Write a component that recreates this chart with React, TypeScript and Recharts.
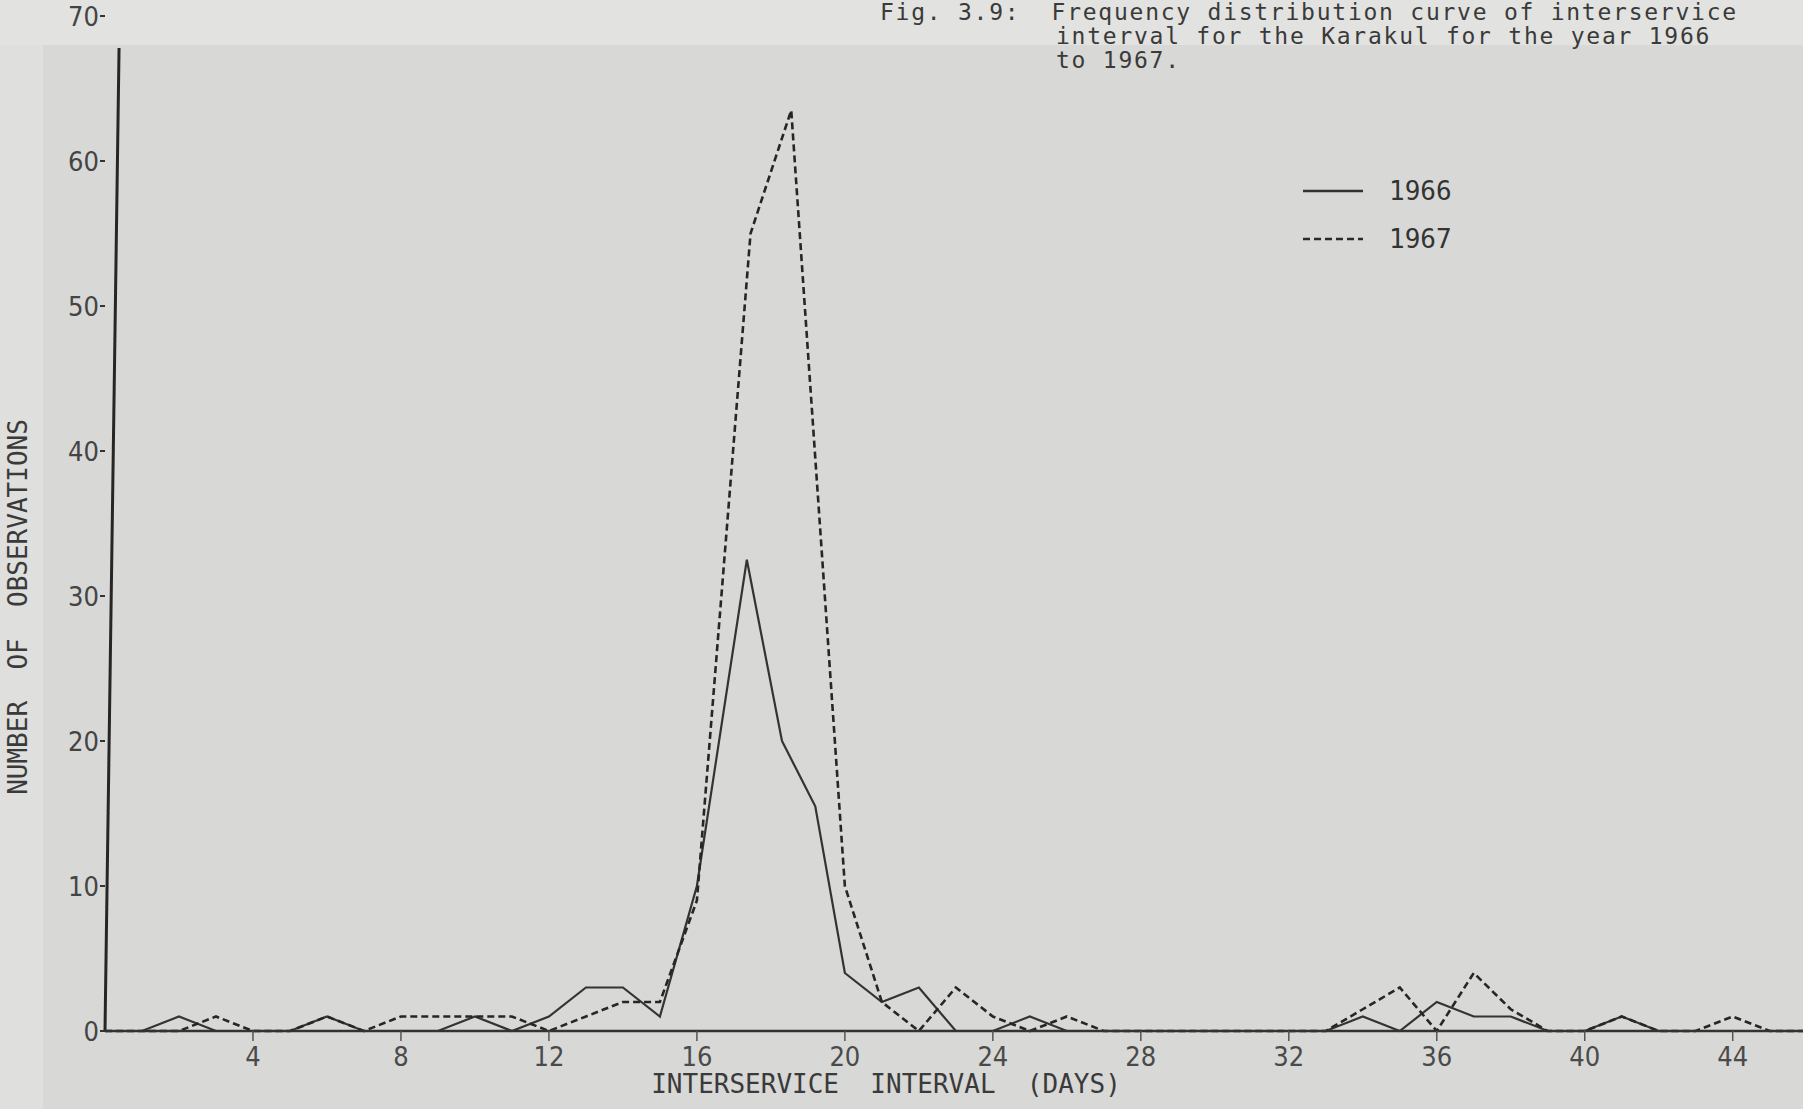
import React from 'react';
import { LineChart, Line, XAxis, YAxis, ReferenceLine, Label } from 'recharts';

// ---- data ----
const days1966 = [0, 1, 2, 3, 4, 5, 6, 7, 8, 9, 10, 11, 12, 13, 14, 15, 16, 17.35, 18.3, 19.2, 20, 21, 22, 23, 24, 25, 26, 27, 28, 29, 30, 31, 32, 33, 34, 35, 36, 37, 38, 39, 40, 41, 42, 43, 44, 45, 46];
const counts1966 = [0, 0, 1, 0, 0, 0, 1, 0, 0, 0, 1, 0, 1, 3, 3, 1, 10, 32.5, 20, 15.5, 4, 2, 3, 0, 0, 1, 0, 0, 0, 0, 0, 0, 0, 0, 1, 0, 2, 1, 1, 0, 0, 1, 0, 0, 0, 0, 0];

const days1967 = [0, 1, 2, 3, 4, 5, 6, 7, 8, 9, 10, 11, 12, 13, 14, 15, 16, 17.45, 18.55, 20, 21, 22, 23, 24, 25, 26, 27, 28, 29, 30, 31, 32, 33, 34, 35, 36, 37, 38, 39, 40, 41, 42, 43, 44, 45, 46];
const counts1967 = [0, 0, 0, 1, 0, 0, 1, 0, 1, 1, 1, 1, 0, 1, 2, 2, 9, 55, 63.5, 10, 2, 0, 3, 1, 0, 1, 0, 0, 0, 0, 0, 0, 0, 1.5, 3, 0, 4, 1.5, 0, 0, 1, 0, 0, 1, 0, 0];

const xTicks = [4, 8, 12, 16, 20, 24, 28, 32, 36, 40, 44];
const yTicks = [0, 10, 20, 30, 40, 50, 60, 70];
const seriesNames = ['1966', '1967'];

const titleLines = [
  'Fig. 3.9:  Frequency distribution curve of interservice',
  'interval for the Karakul for the year 1966',
  'to 1967.',
];
const xAxisTitle = 'INTERSERVICE  INTERVAL  (DAYS)';
const yAxisTitle = 'NUMBER  OF  OBSERVATIONS';

// ---- tables built from the arrays ----
const data1966 = days1966.map((x, i) => ({ x, y: counts1966[i] }));
const data1967 = days1967.map((x, i) => ({ x, y: counts1967[i] }));

const MONO = "'DejaVu Sans Mono', 'Liberation Mono', monospace";
const NARROW = "'Liberation Sans Narrow', 'DejaVu Sans Condensed', 'DejaVu Sans', sans-serif";
const INK = '#333333';

const LegendBox = () => (
  <div style={{ position: 'absolute', left: 1303, top: 167, fontFamily: MONO, fontSize: 26, color: INK }}>
    {seriesNames.map((name, i) => (
      <div key={name} style={{ display: 'flex', alignItems: 'center', height: 48 }}>
        <svg width={60} height={10}>
          <line
            x1={0}
            y1={5}
            x2={60}
            y2={5}
            stroke={i === 0 ? '#333' : '#2a2a2a'}
            strokeWidth={2.5}
            strokeDasharray={i === 0 ? undefined : '7 4'}
          />
        </svg>
        <span style={{ marginLeft: 26, lineHeight: '26px' }}>{name}</span>
      </div>
    ))}
  </div>
);

export default function App() {
  return (
    <div style={{ position: 'relative', width: 1803, height: 1109, background: '#d8d8d7', overflow: 'hidden' }}>
      <style>{'body{margin:0;}'}</style>
      <div style={{ position: 'absolute', left: 0, top: 0, width: 1803, height: 45, background: '#e2e2e1' }} />
      <div style={{ position: 'absolute', left: 0, top: 45, width: 43, height: 1064, background: '#dfdfde' }} />
      {titleLines.map((t, i) => (
        <div
          key={i}
          style={{
            position: 'absolute',
            left: i === 0 ? 880 : 1056,
            top: 1 + i * 24,
            fontFamily: MONO,
            fontSize: 23,
            letterSpacing: '1.75px',
            lineHeight: '23px',
            color: '#3a3a3a',
            whiteSpace: 'pre',
          }}
        >
          {t}
        </div>
      ))}
      <div style={{ position: 'absolute', left: 0, top: 0 }}>
        <LineChart width={1803} height={1109} margin={{ top: 16, right: 0, bottom: 18, left: 45 }}>
          <XAxis
            dataKey="x"
            type="number"
            domain={[0, 45.9]}
            allowDataOverflow
            ticks={xTicks}
            interval={0}
            height={60}
            axisLine={{ stroke: '#333', strokeWidth: 2.5 }}
            tickLine={{ stroke: '#555', strokeWidth: 1.5 }}
            tickSize={10}
            tickMargin={6}
            tick={{ fontSize: 27, fill: '#4a4a4a', fontFamily: NARROW }}
          >
            <Label
              content={() => (
                <text
                  x={886}
                  y={1084}
                  textAnchor="middle"
                  dominantBaseline="central"
                  fontFamily={MONO}
                  fontSize={26}
                  fill="#3a3a3a"
                  style={{ whiteSpace: 'pre' }}
                >
                  {xAxisTitle}
                </text>
              )}
            />
          </XAxis>
          <YAxis
            type="number"
            domain={[0, 70]}
            ticks={yTicks}
            interval={0}
            width={60}
            axisLine={false}
            tickLine={{ stroke: '#333', strokeWidth: 2 }}
            tickSize={5}
            tickMargin={1}
            tick={{ fontSize: 27, fill: '#444', fontFamily: NARROW }}
          >
            <Label
              content={() => (
                <text
                  x={18}
                  y={607}
                  transform="rotate(-90 18 607)"
                  textAnchor="middle"
                  dominantBaseline="central"
                  fontFamily={MONO}
                  fontSize={26}
                  fill="#3a3a3a"
                  style={{ whiteSpace: 'pre' }}
                >
                  {yAxisTitle}
                </text>
              )}
            />
          </YAxis>
          <ReferenceLine
            segment={[{ x: 0, y: 0 }, { x: 0.38, y: 67.8 }]}
            stroke="#262626"
            strokeWidth={3}
            ifOverflow="visible"
          />
          <Line
            data={data1966}
            dataKey="y"
            name={seriesNames[0]}
            type="linear"
            stroke="#333"
            strokeWidth={2.2}
            dot={false}
            activeDot={false}
            isAnimationActive={false}
          />
          <Line
            data={data1967}
            dataKey="y"
            name={seriesNames[1]}
            type="linear"
            stroke="#262626"
            strokeWidth={2.6}
            strokeDasharray="7 4"
            dot={false}
            activeDot={false}
            isAnimationActive={false}
          />
        </LineChart>
      </div>
      <LegendBox />
    </div>
  );
}
